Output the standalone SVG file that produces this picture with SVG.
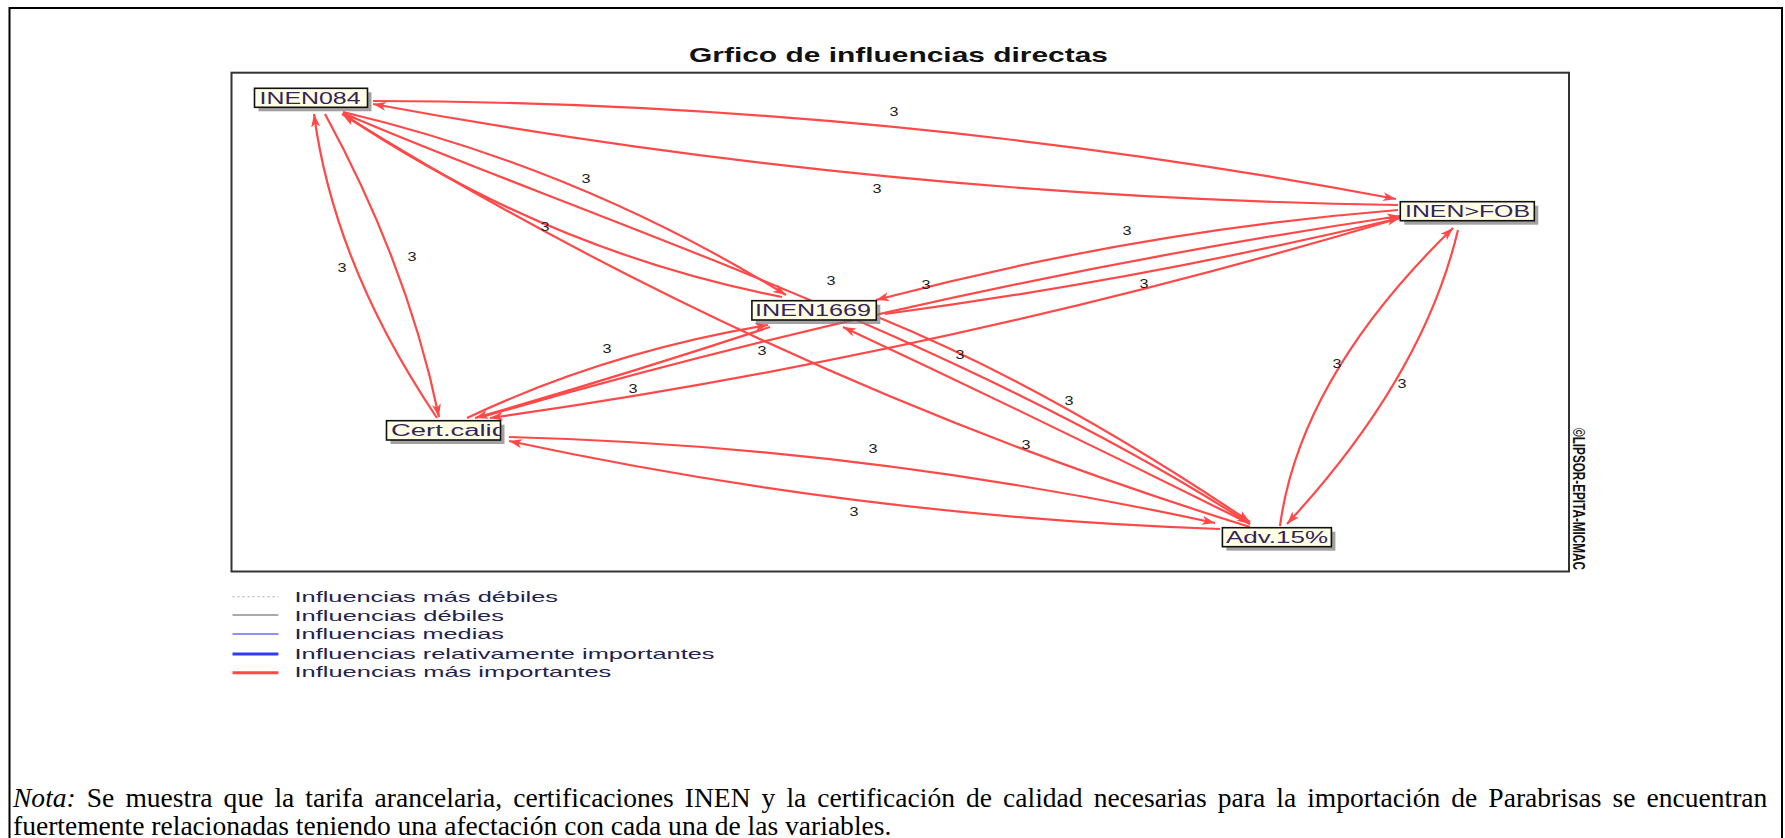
<svg xmlns="http://www.w3.org/2000/svg" width="1785" height="838" viewBox="0 0 1785 838">
<style>
.frame{fill:none;stroke:#000;stroke-width:2}
.plot{fill:none;stroke:#333;stroke-width:2}
.edge{fill:none;stroke:#ff4848;stroke-width:2.2;marker-end:url(#arr)}
.lbl{font-family:"Liberation Sans",Arial,sans-serif;font-size:12.5px;fill:#222;text-anchor:middle}
.box{fill:#ffffe6;stroke:#111;stroke-width:1.6}
.shadow{fill:#7a7a7a;opacity:0.7}
.ntext{font-family:"Liberation Sans",Arial,sans-serif;font-size:16px;fill:#33245c}
.leg{font-family:"Liberation Sans",Arial,sans-serif;font-size:15px;fill:#22224f}
.note{font-family:"Liberation Serif","Times New Roman",serif;font-size:27px;fill:#000}
</style>
<defs>
<marker id="arr" markerUnits="userSpaceOnUse" markerWidth="14" markerHeight="10" refX="13" refY="5" orient="auto">
<path d="M0,0.5 L13,5 L0,9.5 L3.5,5 z" fill="#ff4848"/>
</marker>
<clipPath id="clipD"><rect x="386.5" y="420.7" width="114" height="19.3"/></clipPath>
</defs>
<rect width="1785" height="838" fill="#fff"/>
<rect class="frame" x="9.5" y="8" width="1772.5" height="840"/>
<rect class="plot" x="231.5" y="72.7" width="1337.5" height="498.8"/>
<text x="689" y="62" font-family="Liberation Sans,Arial,sans-serif" font-size="21" font-weight="bold" fill="#111" textLength="419" lengthAdjust="spacingAndGlyphs">Grfico de influencias directas</text>
<text transform="translate(1573,428) rotate(90)" font-family="Liberation Sans,Arial,sans-serif" font-size="16" font-weight="bold" fill="#111" textLength="142" lengthAdjust="spacingAndGlyphs">©LIPSOR-EPITA-MICMAC</text>
<g id="connectors">
<path class="edge" d="M373,101 Q883,102 1396,199"/>
<path class="edge" d="M1398,205 Q875,197 373,104"/>
<path class="edge" d="M437,418 Q334,265 314,114"/>
<path class="edge" d="M325,114 Q408,266 439,417"/>
<path class="edge" d="M343,112 Q580,168 786,295"/>
<path class="edge" d="M782,297 Q547,251 343,114"/>
<path class="edge" d="M343,113 C540,200 950,330 1250,524"/>
<path class="edge" d="M1250,527 Q766,377 342,114"/>
<path class="edge" d="M1398,210 Q1137,231 876,300"/>
<path class="edge" d="M885,314 Q1141,280 1400,218"/>
<path class="edge" d="M482,417 Q941,284 1400,216"/>
<path class="edge" d="M1400,218 Q945,354 490,418"/>
<path class="edge" d="M467,418 Q606,352 768,325"/>
<path class="edge" d="M770,327 Q621,376 475,418"/>
<path class="edge" d="M880,318 Q1051,388 1250,522"/>
<path class="edge" d="M1250,524 Q1046,422 843,327"/>
<path class="edge" d="M509,437 Q862,446 1215,523"/>
<path class="edge" d="M1220,529 Q863,517 509,441"/>
<path class="edge" d="M1280,526 Q1300,377 1453,228"/>
<path class="edge" d="M1458,230 Q1423,377 1287,524"/>
</g>
<g id="edge-labels">
<text class="lbl" x="894" y="116" textLength="9" lengthAdjust="spacingAndGlyphs">3</text>
<text class="lbl" x="877" y="193" textLength="9" lengthAdjust="spacingAndGlyphs">3</text>
<text class="lbl" x="586" y="183" textLength="9" lengthAdjust="spacingAndGlyphs">3</text>
<text class="lbl" x="545" y="231" textLength="9" lengthAdjust="spacingAndGlyphs">3</text>
<text class="lbl" x="342" y="272" textLength="9" lengthAdjust="spacingAndGlyphs">3</text>
<text class="lbl" x="412" y="261" textLength="9" lengthAdjust="spacingAndGlyphs">3</text>
<text class="lbl" x="1127" y="235" textLength="9" lengthAdjust="spacingAndGlyphs">3</text>
<text class="lbl" x="831" y="285" textLength="9" lengthAdjust="spacingAndGlyphs">3</text>
<text class="lbl" x="926" y="289" textLength="9" lengthAdjust="spacingAndGlyphs">3</text>
<text class="lbl" x="1144" y="288" textLength="9" lengthAdjust="spacingAndGlyphs">3</text>
<text class="lbl" x="607" y="353" textLength="9" lengthAdjust="spacingAndGlyphs">3</text>
<text class="lbl" x="762" y="355" textLength="9" lengthAdjust="spacingAndGlyphs">3</text>
<text class="lbl" x="633" y="393" textLength="9" lengthAdjust="spacingAndGlyphs">3</text>
<text class="lbl" x="960" y="359" textLength="9" lengthAdjust="spacingAndGlyphs">3</text>
<text class="lbl" x="1069" y="405" textLength="9" lengthAdjust="spacingAndGlyphs">3</text>
<text class="lbl" x="873" y="453" textLength="9" lengthAdjust="spacingAndGlyphs">3</text>
<text class="lbl" x="1026" y="449" textLength="9" lengthAdjust="spacingAndGlyphs">3</text>
<text class="lbl" x="854" y="516" textLength="9" lengthAdjust="spacingAndGlyphs">3</text>
<text class="lbl" x="1337" y="368" textLength="9" lengthAdjust="spacingAndGlyphs">3</text>
<text class="lbl" x="1402" y="388" textLength="9" lengthAdjust="spacingAndGlyphs">3</text>
</g>
<g id="node-INEN084">
<rect class="shadow" x="258.5" y="92.3" width="113" height="19"/>
<rect class="box" x="254.5" y="88.3" width="113" height="19"/>
<text class="ntext" x="259.5" y="103.5" textLength="101" lengthAdjust="spacingAndGlyphs">INEN084</text>
</g>
<g id="node-INENFOB">
<rect class="shadow" x="1404.3" y="205.7" width="134" height="19"/>
<rect class="box" x="1400.3" y="201.7" width="134" height="19"/>
<text class="ntext" x="1405" y="217" textLength="125" lengthAdjust="spacingAndGlyphs">INEN&gt;FOB</text>
</g>
<g id="node-INEN1669">
<rect class="shadow" x="755.9" y="304.7" width="124.4" height="19.3"/>
<rect class="box" x="751.9" y="300.7" width="124.4" height="19.3"/>
<text class="ntext" x="755" y="316" textLength="116" lengthAdjust="spacingAndGlyphs">INEN1669</text>
</g>
<g id="node-Certcalid">
<rect class="shadow" x="390.5" y="424.7" width="114" height="19.3"/>
<rect class="box" x="386.5" y="420.7" width="114" height="19.3"/>
<text class="ntext" x="391" y="436" textLength="116" lengthAdjust="spacingAndGlyphs" clip-path="url(#clipD)">Cert.calid</text>
</g>
<g id="node-Adv15">
<rect class="shadow" x="1226.4" y="531.7" width="109" height="19"/>
<rect class="box" x="1222.4" y="527.7" width="109" height="19"/>
<text class="ntext" x="1226" y="543" textLength="102" lengthAdjust="spacingAndGlyphs">Adv.15%</text>
</g>
<g id="legend">
<line x1="232.5" y1="596.7" x2="278.4" y2="596.7" stroke="#aaa" stroke-width="1" stroke-dasharray="2,3"/>
<line x1="232.5" y1="615" x2="278.4" y2="615" stroke="#555" stroke-width="1"/>
<line x1="232.5" y1="634" x2="278.4" y2="634" stroke="#6b6bff" stroke-width="1.5"/>
<line x1="232.5" y1="654" x2="278.4" y2="654" stroke="#2f3cff" stroke-width="3"/>
<line x1="232.5" y1="672.7" x2="278.4" y2="672.7" stroke="#ff4a4a" stroke-width="3"/>
<text class="leg" x="294.5" y="601.5" textLength="263.5" lengthAdjust="spacingAndGlyphs">Influencias más débiles</text>
<text class="leg" x="294.5" y="620.5" textLength="209.5" lengthAdjust="spacingAndGlyphs">Influencias débiles</text>
<text class="leg" x="294.5" y="639.3" textLength="209.5" lengthAdjust="spacingAndGlyphs">Influencias medias</text>
<text class="leg" x="294.5" y="658.5" textLength="420" lengthAdjust="spacingAndGlyphs">Influencias relativamente importantes</text>
<text class="leg" x="294.5" y="677.3" textLength="316.8" lengthAdjust="spacingAndGlyphs">Influencias más importantes</text>
</g>
<g id="note" transform="scale(1.02,1)">
<text class="note" x="12.75" y="807" word-spacing="4.1"><tspan font-style="italic">Nota:</tspan> Se muestra que la tarifa arancelaria, certificaciones INEN y la certificación de calidad necesarias para la importación de Parabrisas se encuentran</text>
<text class="note" x="12.75" y="835">fuertemente relacionadas teniendo una afectación con cada una de las variables.</text>
</g>
</svg>
